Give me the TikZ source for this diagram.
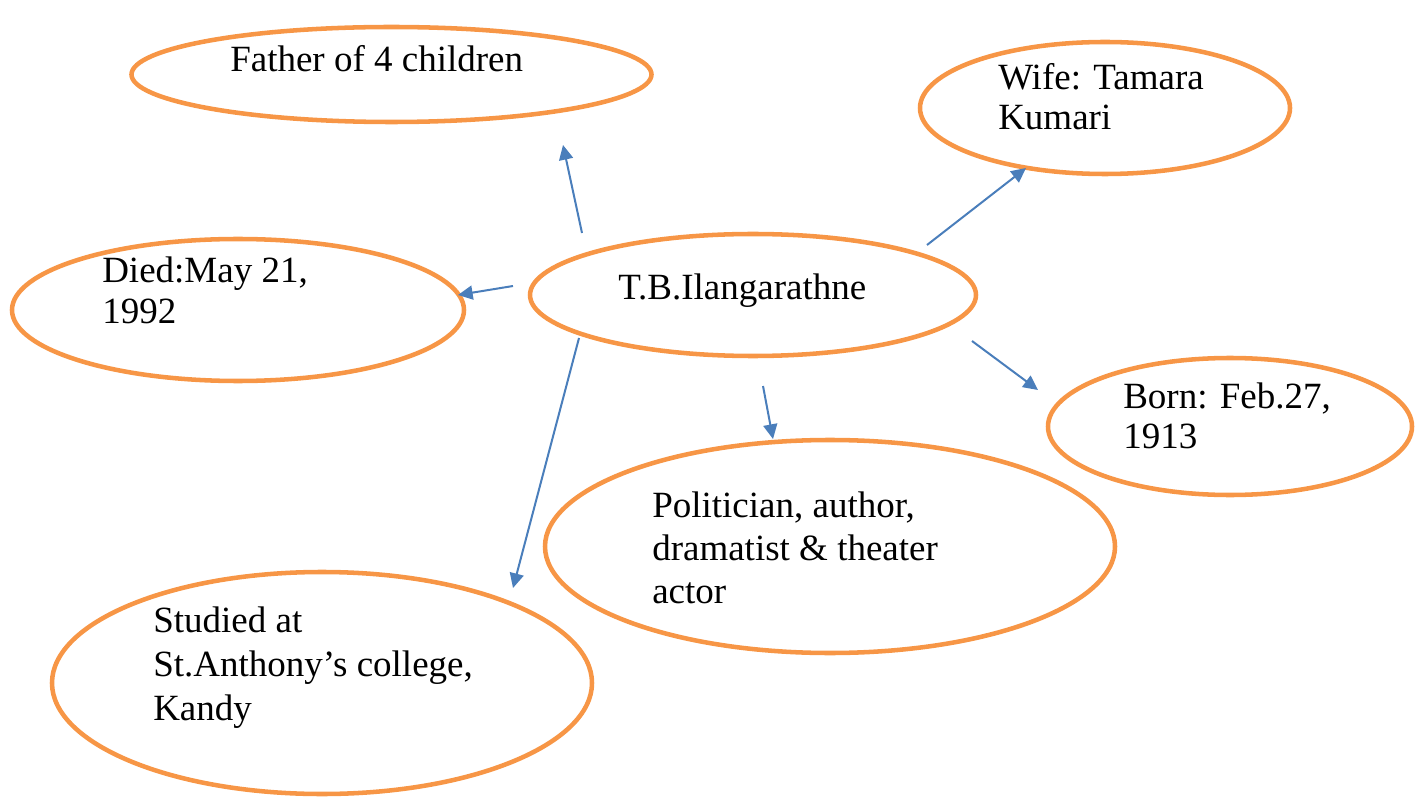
\documentclass[tikz,border=0pt]{standalone}
\usepackage{fontspec}
\setmainfont{Liberation Serif}
\usetikzlibrary{shapes.geometric,arrows.meta}
\definecolor{ovalorange}{HTML}{F79646}
\definecolor{arrowblue}{HTML}{4A7EBB}
\begin{document}
\begin{tikzpicture}[x=0.75pt,y=-0.75pt,
  oval/.style={ellipse,draw=ovalorange,line width=3.4pt,inner sep=0pt},
  lbl/.style={anchor=base west,inner sep=0pt,align=left,
    font=\fontsize{27.75pt}{#1}\selectfont},
  lbl/.default=31pt,
  arr/.style={draw=arrowblue,line width=1.5pt,-{Triangle[length=11pt,width=10.5pt]}}]
\useasboundingbox (0,0) rectangle (1423,798);
% ovals
\node[oval,minimum width={520*0.75pt},minimum height={95*0.75pt}]  (father) at (391.5,74.5) {};
\node[oval,minimum width={370*0.75pt},minimum height={132*0.75pt}] (wife) at (1105,108) {};
\node[oval,minimum width={452*0.75pt},minimum height={142*0.75pt}] (died) at (238,310) {};
\node[oval,minimum width={446*0.75pt},minimum height={122*0.75pt}] (tb) at (753,295) {};
\node[oval,minimum width={364*0.75pt},minimum height={137*0.75pt}] (born) at (1230,426.5) {};
\node[oval,minimum width={570*0.75pt},minimum height={213*0.75pt}] (pol) at (830,546.5) {};
\node[oval,minimum width={540*0.75pt},minimum height={222*0.75pt}] (stud) at (322,683) {};
% texts (anchored at the baseline of the last line)
\node[lbl] (fathert) at (230,72) {Father of 4 children};
\node[lbl=30pt] (wifet) at (998,130) {Wife: Tamara\\Kumari};
\node[lbl=30.75pt] (diedt) at (102,324) {Died:May 21,\\1992};
\node[lbl] (tbt) at (618,300) {T.B.Ilangarathne};
\node[lbl=30pt] (bornt) at (1123,448) {Born: Feb.27,\\1913};
\node[lbl=32pt] (polt) at (652,603) {Politician, author,\\dramatist \& theater\\actor};
\node[lbl=33pt] (studt) at (153,720) {Studied at\\St.Anthony’s college,\\Kandy};
% arrow ends
\coordinate (a1s) at (582,233); \coordinate (a1e) at (563,145);
\coordinate (a2s) at (513,286); \coordinate (a2e) at (458,295);
\coordinate (a3s) at (927,245); \coordinate (a3e) at (1026,168);
\coordinate (a4s) at (972,341); \coordinate (a4e) at (1038,390);
\coordinate (a5s) at (763,386); \coordinate (a5e) at (773,439);
\coordinate (a6s) at (579,338); \coordinate (a6e) at (513,588);
\draw[arr] (a1s) -- (a1e);
\draw[arr] (a2s) -- (a2e);
\draw[arr] (a3s) -- (a3e);
\draw[arr] (a4s) -- (a4e);
\draw[arr] (a5s) -- (a5e);
\draw[arr] (a6s) -- (a6e);
\end{tikzpicture}
\end{document}
